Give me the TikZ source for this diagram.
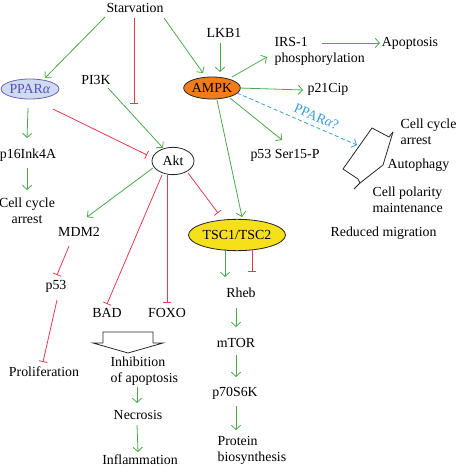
\documentclass[tikz,border=0pt]{standalone}
\usepackage{fontspec}
\setmainfont{Liberation Serif}
\usetikzlibrary{shapes.geometric,arrows.meta,calc}
\definecolor{grn}{RGB}{76,168,76}
\definecolor{rd}{RGB}{232,57,77}
\definecolor{cy}{RGB}{51,160,219}
\definecolor{pblue}{RGB}{90,80,180}
\definecolor{pborder}{RGB}{110,100,185}
\definecolor{pfill}{RGB}{206,219,240}
\definecolor{orng}{RGB}{240,124,28}
\definecolor{yel}{RGB}{245,224,26}
\begin{document}
\begin{tikzpicture}[x=0.75pt,y=-0.75pt,
  lbl/.style={font=\fontsize{10.4}{12}\selectfont, inner sep=1pt},
  oval/.style={ellipse, draw=black!85, line width=0.6pt, inner sep=0pt, font=\fontsize{10.4}{12}\selectfont},
  act/.style={draw=grn, line width=0.6pt, -{Straight Barb[length=3.2pt,width=7pt]}},
  inh/.style={draw=rd, line width=0.6pt, -{Bar[width=6.5pt,line width=0.6pt]}},
  dact/.style={draw=cy, line width=0.6pt, dash pattern=on 3pt off 2pt, -{Straight Barb[length=3.2pt,width=7pt]}},
  outline/.style={draw=black!85, line width=0.6pt}]
\useasboundingbox (0,0) rectangle (456,466);

% nodes
\node[lbl] (starv) at (135,8) {Starvation};
\node[oval, draw=pborder, fill=pfill, text=pblue, minimum width=41pt, minimum height=15pt] (ppar) at (30,89) {PPAR\textit{α}};
\node[lbl] (pik) at (96,80) {PI3K};
\node[lbl] (lkb) at (224,33) {LKB1};
\node[oval, fill=orng, minimum width=41pt, minimum height=16.5pt] (ampk) at (212,88) {AMPK};
\node[lbl, anchor=west, align=left] (irs) at (273,51.5) {IRS-1\\phosphorylation};
\node[lbl] (apop) at (410,43) {Apoptosis};
\node[lbl] (p21) at (328,89) {p21Cip};
\node[lbl] (p53s) at (285,155) {p53 Ser15-P};
\node[lbl, anchor=west, align=left] (ccr) at (399,132) {Cell cycle\\arrest};
\node[lbl, anchor=west] (autoph) at (386,165) {Autophagy};
\node[lbl, anchor=west, align=left] (cpol) at (371,199.5) {Cell polarity\\maintenance};
\node[lbl, anchor=west] (redm) at (329,233) {Reduced migration};
\node[lbl] (p16) at (28,155) {p16Ink4A};
\node[lbl, align=center] (cca) at (27,210.5) {Cell cycle\\arrest};
\node[oval, fill=white, minimum width=31.5pt, minimum height=20.5pt] (akt) at (173,161) {Akt};
\node[lbl] (mdm2) at (79,232) {MDM2};
\node[lbl] (p53) at (56,286) {p53};
\node[lbl] (prolif) at (44,372) {Proliferation};
\node[lbl] (bad) at (107,313) {BAD};
\node[lbl] (foxo) at (167,313) {FOXO};
\node[oval, fill=yel, minimum width=72pt, minimum height=23.5pt] (tsc) at (237,235) {TSC1/TSC2};
\node[lbl] (rheb) at (241,293) {Rheb};
\node[lbl] (mtor) at (236,343) {mTOR};
\node[lbl] (p70) at (235,393) {p70S6K};
\node[lbl, anchor=west, align=left] (prot) at (216,450) {Protein\\biosynthesis};
\node[lbl, anchor=west, align=left] (inh) at (109,371) {Inhibition\\of apoptosis};
\node[lbl] (necro) at (138,415) {Necrosis};
\node[lbl] (infl) at (140,460) {Inflammation};

\coordinate (sbar) at (134,104);
\coordinate (dtip) at (357,145);

% connectors
\draw[act] ($(starv)+(-30,9)$) -- ($(ppar)+(15,-11)$);
\draw[inh] ($(starv)+(-1,10)$) -- (sbar);
\draw[act] ($(starv)+(29,10)$) -- ($(ampk)+(-9,-15)$);
\draw[act] ($(lkb)+(-4,10)$) -- ($(ampk)+(8,-16)$);
\draw[act] ($(pik)+(12,8)$) -- ($(akt)+(-10,-13)$);
\draw[inh] ($(ppar)+(23,20)$) -- ($(akt)+(-26,-6)$);
\draw[act] ($(ppar)+(-2,19)$) -- ($(p16)+(-1,-17)$);
\draw[act] ($(p16)+(-1,13)$) -- ($(cca)+(0,-20.5)$);
\draw[act] ($(akt)+(-20,7)$) -- ($(mdm2)+(8,-15)$);
\draw[inh] ($(mdm2)+(-10,14)$) -- ($(p53)+(1,-11)$);
\draw[inh] ($(p53)+(1,14)$) -- ($(prolif)+(-1,-10)$);
\draw[inh] ($(akt)+(-11,14)$) -- ($(bad)+(0,-9)$);
\draw[inh] ($(akt)+(-6,14)$) -- ($(foxo)+(0,-10)$);
\draw[inh] ($(akt)+(15,12)$) -- ($(tsc)+(-19,-22)$);
\draw[act] ($(ampk)+(5,12)$) -- ($(tsc)+(5,-18)$);
\draw[act] ($(ampk)+(20,-11)$) -- ($(irs.west)+(-6,5.5)$);
\draw[act] ($(irs.west)+(49,-8.5)$) -- ($(apop)+(-30,0)$);
\draw[act] ($(ampk)+(27,0)$) -- ($(p21)+(-25,1)$);
\draw[act] ($(ampk)+(18,10)$) -- ($(p53s)+(-3,-15)$);
\draw[dact] ($(ampk)+(25,5)$) -- node[sloped, above=3pt, pos=0.63, text=cy, font=\fontsize{10.4}{12}\selectfont, inner sep=0.5pt] {PPAR\textit{α}?} (dtip);
\draw[act] ($(tsc)+(-12,14)$) -- ($(rheb)+(-16,-16)$);
\draw[inh] ($(tsc)+(15,15)$) -- ($(rheb)+(11,-21)$);
\draw[act] ($(rheb)+(-5,15)$) -- ($(mtor)+(0,-16)$);
\draw[act] ($(mtor)+(0,12)$) -- ($(p70)+(1,-16)$);
\draw[act] ($(p70)+(1,13)$) -- ($(prot.west)+(20,-20)$);
\draw[act] ($(inh.west)+(28,16)$) -- ($(necro)+(-1,-12)$);
\draw[act] ($(necro)+(-1,10)$) -- ($(infl)+(-2,-8)$);

% folded outcome shape
\draw[outline, line join=miter] (393,132) -- (389,137) -- (372,128) -- (343,169) -- (358,179) -- (360,183) -- (354,189);
\draw[outline] (393,132) -- (383,165) -- (360,183);

% hollow block arrow
\draw[outline, line join=miter] (103,332) -- (153,332) -- (153,343) -- (163,343) -- (128,353) -- (93,343) -- (103,343) -- cycle;
\end{tikzpicture}
\end{document}
